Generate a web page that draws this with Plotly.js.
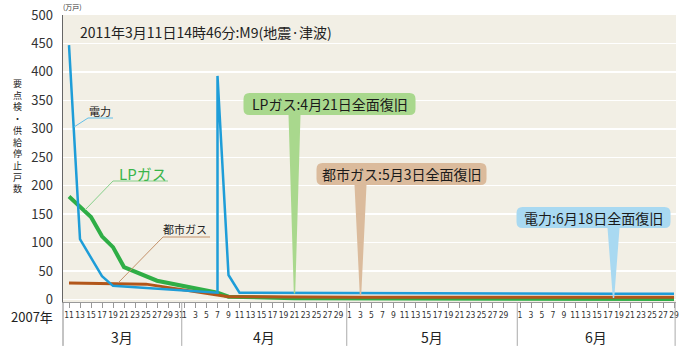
<!DOCTYPE html>
<html><head><meta charset="utf-8">
<script src="https://cdn.plot.ly/plotly-3.0.1.min.js"></script>
<style>html,body{margin:0;padding:0;background:#fff}</style>
</head><body><div id="chart" style="width:680px;height:354px"></div>
<script>
// ---- data ----
const elecDates  = ['3/11','3/13','3/17','3/19','4/7','4/7','4/9','4/11','6/18','6/29'];
const elecValues = [447, 106, 41, 24, 12, 393, 43, 12, 10, 10];
const lpDates    = ['3/11','3/15','3/17','3/19','3/21','3/27','4/7','4/9','4/21','6/29'];
const lpValues   = [181, 145, 111, 92, 57, 33, 12, 5, 2, 1];
const cityDates  = ['3/11','3/25','4/9','5/3','6/29'];
const cityValues = [29, 27, 5, 4, 4];
const seriesNames = ['電力', 'LPガス', '都市ガス'];
const months = ['3月', '4月', '5月', '6月'];
const monthStarts = ['4/1', '5/1', '6/1'];
const marTicks = [11,13,15,17,19,21,23,25,27,29,31];
const aprTicks = [1,3,5,7,9,11,13,15,17,19,21,23,25,27,29];
const mayTicks = [1,3,5,7,9,11,13,15,17,19,21,23,25,27,29];
const junTicks = [1,3,5,7,9,11,13,15,17,19,21,23,25,27,29];
const recoveryDates = ['4/21', '5/3', '6/18'];
const recoveryTexts = ['LPガス:4月21日全面復旧', '都市ガス:5月3日全面復旧', '電力:6月18日全面復旧'];
const headline = '2011年3月11日14時46分:M9(地震·津波)';
const yTitle = '要点検・供給停止戸数';
const unitText = '(万戸)';
const yearText = '2007年';

// ---- helpers ----
const DAY = 86400000;
const BASE = Date.UTC(2011, 2, 11);
function pad(n) { return String(n).padStart(2, '0'); }
function ms2str(ms) {
  const d = new Date(ms);
  return `${d.getUTCFullYear()}-${pad(d.getUTCMonth() + 1)}-${pad(d.getUTCDate())} ${pad(d.getUTCHours())}:${pad(d.getUTCMinutes())}`;
}
function dms(md) { const [m, d] = md.split('/').map(Number); return Date.UTC(2011, m - 1, d); }
function dt(md) { return ms2str(dms(md)); }

const font = '"Noto Sans CJK JP", "Noto Sans", sans-serif';
const narrow = '"Liberation Sans Narrow", "DejaVu Sans Condensed", "Noto Sans CJK JP", sans-serif';
const cBlue = '#1e9dd8', cGreen = '#2fae46', cBrown = '#b2561a';

const traces = [
  {x: lpDates.map(dt), y: lpValues, name: seriesNames[1], mode: 'lines', line: {color: cGreen, width: 4}},
  {x: cityDates.map(dt), y: cityValues, name: seriesNames[2], mode: 'lines', line: {color: cBrown, width: 3}},
  {x: elecDates.map(dt), y: elecValues, name: seriesNames[0], mode: 'lines', line: {color: cBlue, width: 2.5}}
];

// ticks
const tickvals = [], ticktext = [];
[[3, marTicks], [4, aprTicks], [5, mayTicks], [6, junTicks]].forEach(([m, arr]) => {
  arr.forEach(d => { tickvals.push(dt(m + '/' + d)); ticktext.push(String(d)); });
});

const XR = [BASE - 1.09 * DAY, BASE + 110.36 * DAY];
const shapes = [], annotations = [];

// month separators
const bounds = [XR[0]].concat(monthStarts.map(s => dms(s) - DAY / 2)).concat([BASE + 110.2 * DAY]);
bounds.slice(1).forEach(b => {
  shapes.push({type: 'line', xref: 'x', yref: 'paper', x0: ms2str(b), x1: ms2str(b), y0: 0, y1: -0.153, line: {color: '#aaa', width: 1}});
});
shapes.push({type: 'line', xref: 'paper', yref: 'paper', x0: 0, x1: 0, y0: 0, y1: -0.153, line: {color: '#888', width: 1}});
months.forEach((m, i) => {
  annotations.push({xref: 'x', yref: 'paper', x: ms2str((bounds[i] + bounds[i + 1]) / 2), y: -0.122, text: m, showarrow: false,
    font: {family: font, size: 14, color: '#222'}, xanchor: 'center', yanchor: 'middle'});
});

// callouts
function boxPath(x0, x1, y0, y1, r, tipY, half) {
  return `M${x0 + r},${y1} L${x1 - r},${y1} Q${x1},${y1} ${x1},${y1 - r} L${x1},${y0 + r} Q${x1},${y0} ${x1 - r},${y0} ` +
    `L${half},${y0} L0.7,${tipY} L-0.7,${tipY} L${-half},${y0} L${x0 + r},${y0} Q${x0},${y0} ${x0},${y0 + r} ` +
    `L${x0},${y1 - r} Q${x0},${y1} ${x0 + r},${y1} Z`;
}
const callStyle = [
  {fill: '#a9d88d', box: [-51, 121, 184.5, 206.5], tip: 6},
  {fill: '#dbbb9c', box: [-44, 126, 114.5, 136.5], tip: 4},
  {fill: '#a9d9f1', box: [-97, 57, 71.5, 92.5], tip: 1.5}
];
recoveryDates.forEach((d, i) => {
  const s = callStyle[i], b = s.box;
  shapes.push({type: 'path', xref: 'x', yref: 'y', xsizemode: 'pixel', ysizemode: 'pixel', xanchor: dt(d), yanchor: 0,
    path: boxPath(b[0], b[1], b[2], b[3], 6, s.tip, 6), fillcolor: s.fill, line: {width: 0}, layer: 'above'});
  annotations.push({xref: 'x', yref: 'y', x: dt(d), y: 0, xshift: (b[0] + b[1]) / 2, yshift: (b[2] + b[3]) / 2,
    text: recoveryTexts[i], showarrow: false, font: {family: font, size: 14, color: '#1a1a1a'}, xanchor: 'center', yanchor: 'middle'});
});

// series labels with leader lines (pixel offsets from the first data date at value 0)
const labelStyle = [
  {text: seriesNames[0], color: '#222', size: 11, pos: [31, 188.5], lead: [[5, 172.5], [19, 181.5], [44, 181.5]], lc: '#62bfe8'},
  {text: seriesNames[1], color: '#3bb54a', size: 15, pos: [74, 126.5], lead: [[16, 89.5], [44, 118.5], [99, 118.5]], lc: '#86d08a'},
  {text: seriesNames[2], color: '#222', size: 11, pos: [116, 70.5], lead: [[49, 16.5], [94, 62.5], [141, 62.5]], lc: '#c3916a'}
];
labelStyle.forEach(l => {
  shapes.push({type: 'path', xref: 'x', yref: 'y', xsizemode: 'pixel', ysizemode: 'pixel', xanchor: dt(elecDates[0]), yanchor: 0,
    path: 'M' + l.lead.map(p => p[0] + ',' + p[1]).join(' L'), line: {color: l.lc, width: 1}});
  annotations.push({xref: 'x', yref: 'y', x: dt(elecDates[0]), y: 0, xshift: l.pos[0], yshift: l.pos[1], text: l.text, showarrow: false,
    font: {family: font, size: l.size, color: l.color}, xanchor: 'center', yanchor: 'middle'});
});

// texts
annotations.push({xref: 'paper', yref: 'paper', x: 0.0245, y: 0.9408, text: headline, showarrow: false, xanchor: 'left', yanchor: 'middle',
  font: {family: font, size: 14, color: '#222'}});
annotations.push({xref: 'paper', yref: 'paper', x: 0.0147, y: 1.028, text: unitText, showarrow: false, xanchor: 'center', yanchor: 'middle',
  font: {family: font, size: 7, color: '#333'}});
annotations.push({xref: 'paper', yref: 'paper', x: -0.013, y: -0.0488, text: yearText, showarrow: false, xanchor: 'right', yanchor: 'middle',
  font: {family: font, size: 13, color: '#222'}});
annotations.push({xref: 'paper', yref: 'paper', x: -0.075, y: (302 - 136) / 287, text: Array.from(yTitle).join('<br>'), showarrow: false,
  xanchor: 'center', yanchor: 'middle', align: 'center', font: {family: font, size: 9, color: '#222'}});

const layout = {
  width: 680, height: 354,
  margin: {l: 63, r: 4, t: 15, b: 52},
  paper_bgcolor: '#ffffff', plot_bgcolor: '#f2efe5',
  showlegend: false,
  xaxis: {type: 'date', range: XR.map(ms2str), tickvals: tickvals, ticktext: ticktext, tickangle: 0, showgrid: false, zeroline: false,
    showline: true, linecolor: '#999', linewidth: 1, ticks: 'outside', ticklen: 5, tickcolor: '#999',
    tickfont: {family: narrow, size: 8.5, color: '#333'}},
  yaxis: {range: [-4.4, 500], dtick: 50, tick0: 0, showgrid: true, gridcolor: '#ffffff', gridwidth: 1.5, zeroline: false,
    showline: true, linecolor: '#666', linewidth: 1.5, ticks: '', ticklabelstandoff: 6,
    tickfont: {family: font, size: 13, color: '#333'}},
  shapes: shapes, annotations: annotations
};

Plotly.newPlot('chart', traces, layout, {displayModeBar: false, staticPlot: true});
</script></body></html>
